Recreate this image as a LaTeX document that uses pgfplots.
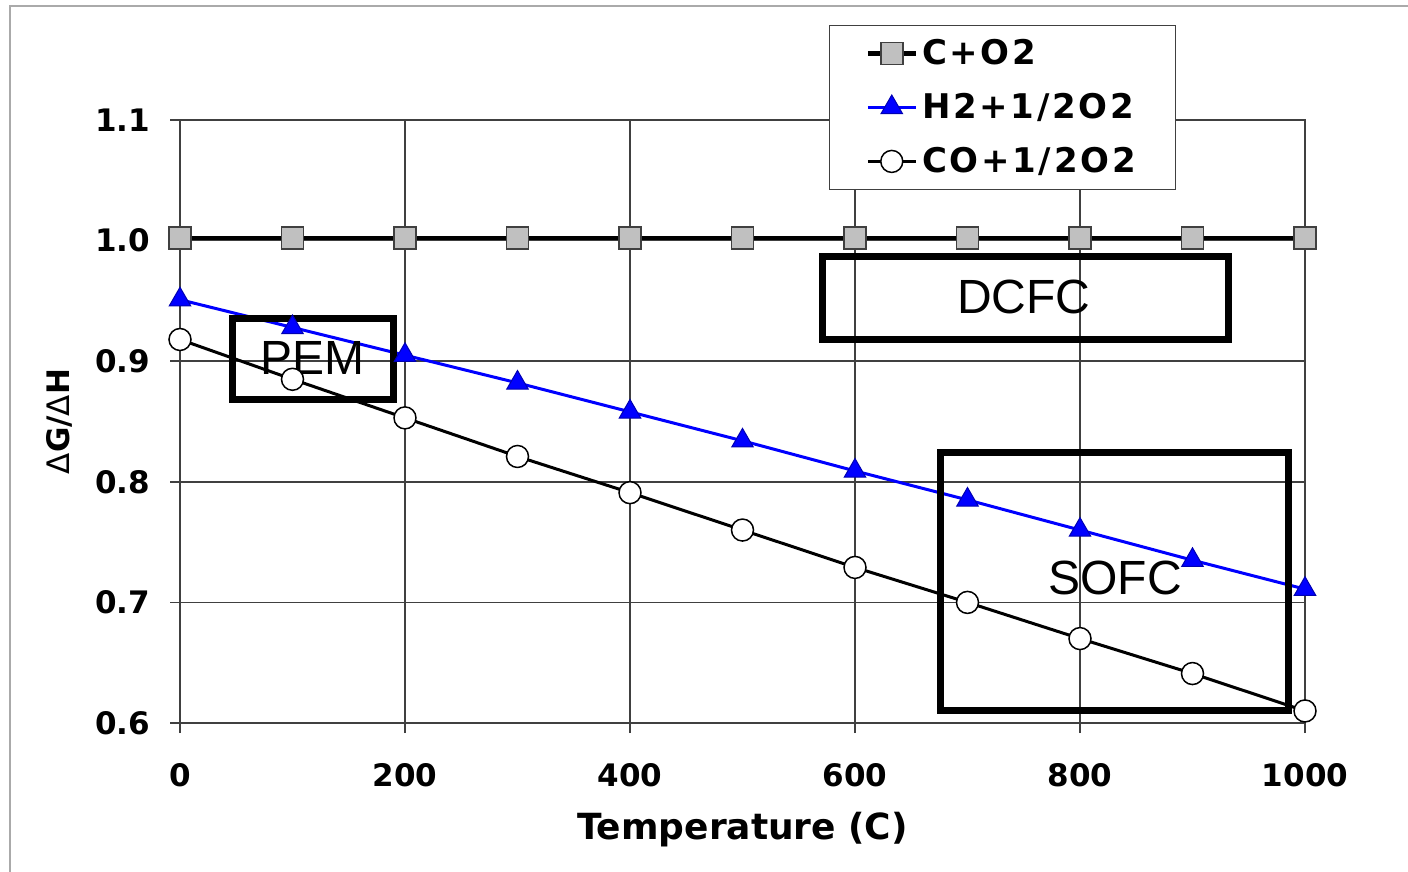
\documentclass[border=0pt]{standalone}
\usepackage{fontspec}
\setmainfont{DejaVu Sans}
\newfontfamily\arialfont{Liberation Sans}
\newfontfamily\legfont{DejaVu Sans}[LetterSpace=8]
\usepackage{pgfplots}
\pgfplotsset{compat=1.18}

\definecolor{gridc}{HTML}{404040}
\definecolor{sqgray}{HTML}{C0C0C0}
\definecolor{framec}{HTML}{AAAAAA}

% Delta G / Delta H against temperature (C)
\pgfplotstableread{
T     r
0     1.002
100   1.002
200   1.002
300   1.002
400   1.002
500   1.002
600   1.002
700   1.002
800   1.002
900   1.002
1000  1.002
}\carbon
\pgfplotstableread{
T     r
0     0.951
100   0.928
200   0.905
300   0.882
400   0.858
500   0.834
600   0.809
700   0.785
800   0.760
900   0.735
1000  0.711
}\hydrogen
\pgfplotstableread{
T     r
0     0.918
100   0.885
200   0.853
300   0.821
400   0.791
500   0.760
600   0.729
700   0.700
800   0.670
900   0.641
1000  0.610
}\monoxide

\begin{document}
\begin{tikzpicture}
\begin{axis}[
    scale only axis,
    width=562.5pt, height=301.5pt,
    at={(0,0)}, anchor=south west,
    xmin=0, xmax=1000, ymin=0.6, ymax=1.1,
    xtick={0,200,400,600,800,1000},
    ytick={0.6,0.7,0.8,0.9,1.0,1.1},
    xtick pos=left, ytick pos=left,
    tick align=outside, major tick length=5pt,
    tick style={gridc, line width=0.75pt},
    grid=major, major grid style={gridc, line width=0.75pt},
    axis line style={gridc, line width=0.75pt},
    /pgf/number format/assume math mode=true,
    /pgf/number format/1000 sep={},
    yticklabel style={/pgf/number format/fixed, /pgf/number format/fixed zerofill,
        /pgf/number format/precision=1, xshift=-6.5pt},
    xticklabel style={yshift=-11.5pt},
    ticklabel style={font=\fontsize{15.5}{18}\selectfont\bfseries},
    xlabel={Temperature (C)},
    xlabel style={font=\fontsize{18}{21}\selectfont\bfseries,
        at={(axis description cs:0.5,-0.1775)}, anchor=center},
    ylabel={{\mdseries Δ}G/{\mdseries Δ}H},
    ylabel style={font=\fontsize{15.5}{18}\selectfont\bfseries,
        at={(axis description cs:-0.1076,0.5)}, anchor=center},
    legend style={at={(axis description cs:0.577,1.1575)}, anchor=north west,
        draw=gridc, fill=white, font=\legfont\fontsize{17}{19}\selectfont\bfseries,
        inner xsep=18pt, inner ysep=0.5pt, row sep=0pt,
        nodes={text height=14pt, text depth=3pt, inner xsep=2pt, inner ysep=5pt},
        cells={anchor=west}},
    legend image code/.code={\draw[mark repeat=2,mark phase=2]
        plot coordinates {(0pt,0pt) (12pt,0pt) (24pt,0pt)};},
    clip=false,
]
\addplot[black, line width=2.25pt, mark=square*, mark size=5.5pt,
    mark options={fill=sqgray, draw=gridc, line width=0.75pt}]
    table[x=T, y=r] {\carbon};
\addlegendentry{C+O2}
\addplot[blue, line width=1.5pt, mark=triangle*, mark size=6.2pt,
    mark options={fill=blue, draw=blue!70!black, line width=0.5pt}]
    table[x=T, y=r] {\hydrogen};
\addlegendentry{H2+1/2O2}
\addplot[black, line width=1.5pt, mark=*, mark size=5.5pt,
    mark options={fill=white, draw=black, line width=0.75pt}]
    table[x=T, y=r] {\monoxide};
\addlegendentry{CO+1/2O2}

\draw[black, line width=3.5pt] (axis cs:47.1,0.868) rectangle (axis cs:190.2,0.935);
\draw[black, line width=3.5pt] (axis cs:570.7,0.918) rectangle (axis cs:931.6,0.987);
\draw[black, line width=3.5pt] (axis cs:676.4,0.610) rectangle (axis cs:984.9,0.824);
\node[font=\arialfont\fontsize{24}{28}\selectfont] at (axis cs:118.2,0.903) {PEM};
\node[font=\arialfont\fontsize{24}{28}\selectfont] at (axis cs:750.2,0.953) {DCFC};
\node[font=\arialfont\fontsize{24}{28}\selectfont] at (axis cs:831.1,0.720) {SOFC};
\end{axis}
\draw[framec, line width=0.75pt] (-85pt,-100pt) -- (-85pt,358.6pt) -- (700pt,358.6pt);
\pgfresetboundingbox
\useasboundingbox (-90pt,-74.5pt) rectangle (614pt,361.5pt);
\end{tikzpicture}
\end{document}
